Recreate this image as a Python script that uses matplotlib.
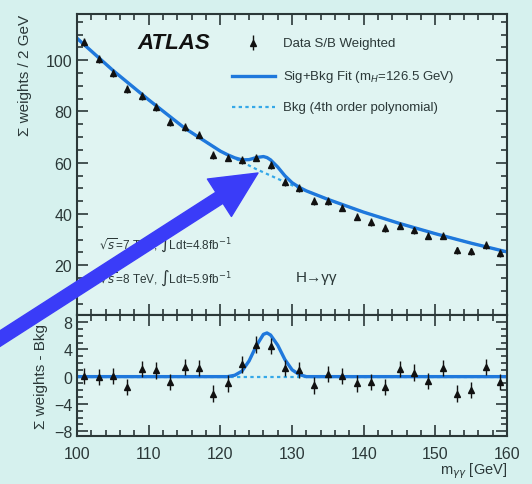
import matplotlib.pyplot as plt
from matplotlib.ticker import MultipleLocator

# bin centres (2 GeV bins)
mass = [101, 103, 105, 107, 109, 111, 113, 115, 117, 119, 121, 123, 125, 127, 129,
        131, 133, 135, 137, 139, 141, 143, 145, 147, 149, 151, 153, 155, 157, 159]
weights = [107, 100.4, 95, 88.7, 86, 81.7, 76, 74, 71, 63, 62, 61, 62, 59, 52.6,
           50, 45, 45, 42.5, 39, 37, 34.4, 35.5, 33.6, 31.6, 31.6, 25.8, 25.4, 28, 24.7]
weights_err = [1.5] * 30
resid = [0.1, -0.1, 0.1, -1.5, 1.1, 0.9, -0.8, 1.4, 1.3, -2.5, -1.0, 1.8, 4.7, 4.5, 1.3,
         1.0, -1.3, 0.4, 0.1, -1.0, -0.8, -1.5, 1.1, 0.6, -0.6, 1.3, -2.5, -2.0, 1.4, -0.8]
resid_err = [1.2] * 30

# fitted curves
bkg_x = [100, 105, 110, 115, 120, 125, 130, 135, 140, 145, 150, 155, 160]
bkg_y = [108.5, 96, 84.5, 73.5, 64.5, 57.5, 51.2, 45.7, 40.7, 36.3, 32.3, 28.6, 25.2]
sb_x = [100, 105, 110, 115, 120, 121, 122, 123, 124, 125, 126, 126.5, 127, 128, 129,
        130, 131, 132, 135, 140, 145, 150, 155, 160]
sb_y = [108.5, 96, 84.5, 73.5, 64.5, 63.1, 61.9, 61.1, 61.2, 62.0, 62.4, 62.0, 61.1,
        58.3, 54.9, 52.2, 50.4, 49.0, 45.7, 40.7, 36.3, 32.3, 28.6, 25.2]
sig_x = [100, 121, 122, 123, 124, 125, 126, 126.5, 127, 128, 129, 130, 131, 132, 160]
sig_y = [0, 0, 0.2, 0.8, 2.3, 4.5, 6.2, 6.4, 6.1, 4.6, 2.5, 1.0, 0.3, 0, 0]

bg = "#d6f1ee"
inner = "#e0f4f2"
ink = "#2b3838"
blue = "#1f78dc"
dotted = "#35a8e8"
plt.rcParams["font.family"] = ["Liberation Sans", "DejaVu Sans"]

fig = plt.figure(figsize=(5.32, 4.85), dpi=100, facecolor=bg)
ax1 = fig.add_axes([0.145, 0.348, 0.808, 0.621], facecolor=inner)
ax2 = fig.add_axes([0.145, 0.099, 0.808, 0.249], facecolor=inner, sharex=ax1)

ax1.plot(bkg_x, bkg_y, color=dotted, lw=1.6, ls=(0, (1.5, 1.5)))
ax1.plot(sb_x, sb_y, color=blue, lw=2.4)
ax1.errorbar(mass, weights, yerr=weights_err, fmt="^", ms=4, color="#111", ecolor="#111",
             elinewidth=1, capsize=0)

ax2.plot([100, 160], [0, 0], color=dotted, lw=1.6, ls=(0, (1.5, 1.5)))
ax2.plot(sig_x, sig_y, color=blue, lw=2.4)
ax2.errorbar(mass, resid, yerr=resid_err, fmt="^", ms=4, color="#111", ecolor="#111",
             elinewidth=1, capsize=0)

ax1.set_xlim(100, 160)
ax1.set_ylim(0.5, 118)
ax2.set_ylim(-8.7, 9)

for ax in (ax1, ax2):
    ax.xaxis.set_major_locator(MultipleLocator(10))
    ax.xaxis.set_minor_locator(MultipleLocator(2))
    ax.tick_params(which="both", direction="in", top=True, right=True, colors=ink,
                   labelsize=11.5, width=1.2)
    ax.tick_params(which="major", length=8)
    ax.tick_params(which="minor", length=4)
    for s in ax.spines.values():
        s.set_color(ink)
        s.set_linewidth(1.5)

ax1.yaxis.set_major_locator(MultipleLocator(20))
ax1.yaxis.set_minor_locator(MultipleLocator(5))
ax1.set_yticks([20, 40, 60, 80, 100])
ax1.tick_params(labelbottom=False)
ax2.yaxis.set_major_locator(MultipleLocator(4))
ax2.yaxis.set_minor_locator(MultipleLocator(1))
ax2.tick_params(axis="x", pad=7)

ax1.set_ylabel("Σ weights / 2 GeV", color=ink, fontsize=11, loc="top", labelpad=10)
ax2.set_ylabel("Σ weights - Bkg", color=ink, fontsize=11, labelpad=4)
ax2.set_xlabel("m$_{\\gamma\\gamma}$ [GeV]", color=ink, fontsize=10.5, loc="right", labelpad=0)

# ATLAS label and legend drawn as text, like the ROOT original
ax1.text(0.14, 0.905, "ATLAS", transform=ax1.transAxes, fontsize=16, fontweight="bold",
         fontstyle="italic", color="#111", va="center")
ax1.errorbar([0.408], [0.905], yerr=[0.025], fmt="^", ms=4, color="#111", elinewidth=1,
             transform=ax1.transAxes)
ax1.plot([0.36, 0.46], [0.795, 0.795], color=blue, lw=2.4, transform=ax1.transAxes)
ax1.plot([0.36, 0.46], [0.69, 0.69], color=dotted, lw=1.6, ls=(0, (1.5, 1.5)),
         transform=ax1.transAxes)
leg_labels = ["Data S/B Weighted", "Sig+Bkg Fit (m$_{H}$=126.5 GeV)",
              "Bkg (4th order polynomial)"]
for yy, lab in zip([0.905, 0.795, 0.69], leg_labels):
    ax1.text(0.478, yy, lab, transform=ax1.transAxes, fontsize=9.5, color=ink, va="center")

ax1.text(0.05, 0.24, "$\\sqrt{s}$=7 TeV, $\\int$Ldt=4.8fb$^{-1}$", transform=ax1.transAxes,
         fontsize=8.5, color=ink, va="center")
ax1.text(0.05, 0.127, "$\\sqrt{s}$=8 TeV, $\\int$Ldt=5.9fb$^{-1}$", transform=ax1.transAxes,
         fontsize=8.5, color=ink, va="center")
ax1.text(0.508, 0.127, "H→γγ", transform=ax1.transAxes, fontsize=11, color=ink, va="center")

# the big blue arrow pointing at the bump
ax1.annotate("", xy=(258, 485 - 174), xycoords="figure pixels",
             xytext=(-10, 485 - 346), textcoords="figure pixels",
             arrowprops=dict(arrowstyle="simple,head_length=3.3,head_width=3.2,tail_width=0.95",
                             mutation_scale=10, color="#3a3cf8", shrinkA=0, shrinkB=0),
             annotation_clip=False)

fig.savefig("out.png", dpi=100, facecolor=bg)
